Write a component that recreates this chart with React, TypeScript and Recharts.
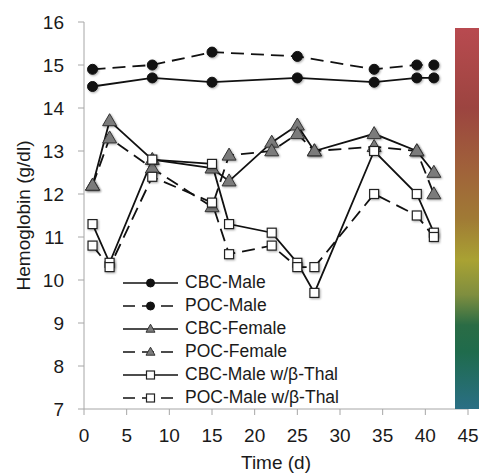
import React from "react";
import { LineChart, Line, XAxis, YAxis, Legend } from "recharts";

// sampling days (d)
const maleDays = [1, 8, 15, 25, 34, 39, 41];
const otherDays = [1, 3, 8, 15, 17, 22, 25, 27, 34, 39, 41];

// hemoglobin (g/dl)
const cbcMale = [14.5, 14.7, 14.6, 14.7, 14.6, 14.7, 14.7];
const pocMale = [14.9, 15.0, 15.3, 15.2, 14.9, 15.0, 15.0];
const cbcFemale = [12.2, 13.7, 12.8, 12.6, 12.3, 13.2, 13.6, 13.0, 13.4, 13.0, 12.5];
const pocFemale = [12.2, 13.3, 12.6, 11.7, 12.9, 13.0, 13.4, 13.0, 13.1, 13.0, 12.0];
const cbcThal = [11.3, 10.4, 12.8, 12.7, 11.3, 11.1, 10.4, 9.7, 13.0, 12.0, 11.1];
const pocThal = [10.8, 10.3, 12.4, 11.8, 10.6, 10.8, 10.3, 10.3, 12.0, 11.5, 11.0];

const xTicks = [0, 5, 10, 15, 20, 25, 30, 35, 40, 45];
const yTicks = [7, 8, 9, 10, 11, 12, 13, 14, 15, 16];

const seriesNames = [
  "CBC-Male",
  "POC-Male",
  "CBC-Female",
  "POC-Female",
  "CBC-Male w/β-Thal",
  "POC-Male w/β-Thal",
];

type Shape = "circle" | "triangle" | "square";

const toPoints = (days: number[], hb: number[]) =>
  days.map((day, i) => ({ day, hb: hb[i] }));

const series = [
  { name: seriesNames[0], data: toPoints(maleDays, cbcMale), shape: "circle" as Shape, dashed: false },
  { name: seriesNames[1], data: toPoints(maleDays, pocMale), shape: "circle" as Shape, dashed: true },
  { name: seriesNames[2], data: toPoints(otherDays, cbcFemale), shape: "triangle" as Shape, dashed: false },
  { name: seriesNames[3], data: toPoints(otherDays, pocFemale), shape: "triangle" as Shape, dashed: true },
  { name: seriesNames[4], data: toPoints(otherDays, cbcThal), shape: "square" as Shape, dashed: false },
  { name: seriesNames[5], data: toPoints(otherDays, pocThal), shape: "square" as Shape, dashed: true },
];

const INK = "#111";
const DASH = "13 7";
const SHADOW = { filter: "drop-shadow(1px 1.5px 1.2px rgba(0,0,0,0.35))" };

function Marker({ shape, cx, cy, small }: { shape: Shape; cx: number; cy: number; small?: boolean }) {
  const style = small ? undefined : SHADOW;
  if (shape === "circle") {
    return <circle cx={cx} cy={cy} r={small ? 4 : 5} fill={INK} stroke={INK} style={style} />;
  }
  if (shape === "triangle") {
    const w = small ? 9 : 14;
    const h = small ? 8 : 12;
    const pts = `${cx},${cy - h * 0.6} ${cx - w / 2},${cy + h * 0.4} ${cx + w / 2},${cy + h * 0.4}`;
    return <polygon points={pts} fill="#7b7b7b" stroke="#333" strokeWidth={1} style={style} />;
  }
  const s = small ? 8 : 9;
  return (
    <rect
      x={cx - s / 2}
      y={cy - s / 2}
      width={s}
      height={s}
      fill="#fff"
      stroke="#222"
      strokeWidth={1.2}
      style={style}
    />
  );
}

const makeDot = (shape: Shape) => (props: any) => {
  const { cx, cy, index } = props;
  if (cx == null || cy == null) return <g key={`d-${index}`} />;
  return <Marker key={`d-${index}`} shape={shape} cx={cx} cy={cy} />;
};

const YTitle = ({ viewBox }: any) => {
  const x = (viewBox?.x ?? 0) + 23;
  const y = (viewBox?.y ?? 0) + (viewBox?.height ?? 0) / 2;
  return (
    <text
      x={x}
      y={y}
      transform={`rotate(-90 ${x} ${y})`}
      textAnchor="middle"
      dominantBaseline="central"
      fontSize={19}
      fill="#1a1a1a"
    >
      Hemoglobin (g/dl)
    </text>
  );
};

const XTitle = ({ viewBox }: any) => {
  const x = (viewBox?.x ?? 0) + (viewBox?.width ?? 0) / 2;
  const y = (viewBox?.y ?? 0) + 53;
  return (
    <text x={x} y={y} textAnchor="middle" dominantBaseline="central" fontSize={19} fill="#1a1a1a">
      Time (d)
    </text>
  );
};

// legend keeps the series order (recharts would sort by name otherwise)
const renderLegend = () => (
  <div>
    {series.map((s) => (
      <div key={s.name} style={{ display: "flex", alignItems: "center", height: 23 }}>
        <svg width={62} height={20} style={{ flex: "none" }}>
          <line
            x1={0}
            y1={10}
            x2={55}
            y2={10}
            stroke={INK}
            strokeWidth={1.7}
            strokeDasharray={s.dashed ? "12 7" : undefined}
          />
          <Marker shape={s.shape} cx={27.5} cy={10} small />
        </svg>
        <span style={{ fontSize: 17.5, color: "#1a1a1a", whiteSpace: "nowrap" }}>{s.name}</span>
      </div>
    ))}
  </div>
);

export default function App() {
  return (
    <div
      style={{
        position: "absolute",
        left: 0,
        top: 0,
        width: 479,
        height: 474,
        background: "#fff",
        fontFamily: '"Liberation Sans", Arial, Helvetica, sans-serif',
      }}
    >
      <LineChart width={479} height={474} margin={{ top: 22, right: 11, bottom: 0, left: 0 }}>
        <XAxis
          type="number"
          dataKey="day"
          domain={[0, 45]}
          ticks={xTicks}
          interval={0}
          height={65}
          tickSize={6}
          tickMargin={14}
          axisLine={{ stroke: "#a6a6a6" }}
          tickLine={{ stroke: "#a6a6a6" }}
          tick={{ fill: "#1a1a1a", fontSize: 19 }}
          label={<XTitle />}
        />
        <YAxis
          type="number"
          domain={[7, 16]}
          ticks={yTicks}
          interval={0}
          width={84}
          tickSize={6}
          tickMargin={14}
          axisLine={{ stroke: "#a6a6a6" }}
          tickLine={{ stroke: "#a6a6a6" }}
          tick={{ fill: "#1a1a1a", fontSize: 19 }}
          label={<YTitle />}
        />
        <Legend
          layout="vertical"
          align="center"
          verticalAlign="middle"
          content={renderLegend}
          wrapperStyle={{ left: 123, top: 271, width: "auto", height: "auto" }}
        />
        {series.map((s) => (
          <Line
            key={s.name}
            name={s.name}
            data={s.data}
            dataKey="hb"
            type="linear"
            stroke={INK}
            strokeWidth={1.8}
            strokeDasharray={s.dashed ? DASH : undefined}
            dot={makeDot(s.shape)}
            activeDot={false}
            isAnimationActive={false}
            legendType="line"
          />
        ))}
      </LineChart>
      <div
        style={{
          position: "absolute",
          left: 455,
          top: 28,
          width: 24,
          height: 381,
          background:
            "linear-gradient(to bottom, #b84a50 0%, #ab4848 10%, #9c4440 21%, #a0623a 37%, #a07a35 50%, #a9a233 61%, #7f8e3f 70%, #2a6c45 78%, #1f6b4c 85%, #2a6f85 100%)",
        }}
      />
    </div>
  );
}
